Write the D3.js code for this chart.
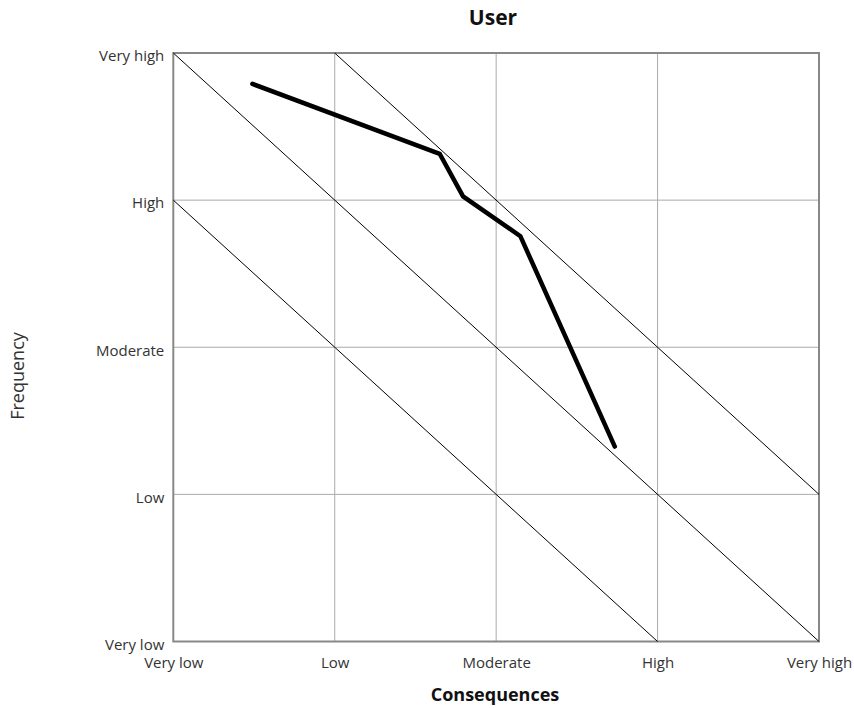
<!DOCTYPE html>
<html><head><meta charset="utf-8">
<script src="https://cdn.jsdelivr.net/npm/d3@7"></script>
<style>body{margin:0;background:#fff}text{font-family:"Open Sans",sans-serif}</style>
</head><body>
<svg id="c" width="854" height="708"></svg>
<script>
const levels = ["Very low","Low","Moderate","High","Very high"];
const title = "User";
const xTitle = "Consequences";
const yTitle = "Frequency";
// risk iso-lines: [x1,y1,x2,y2] in level units
const isoLines = [[0,3,3,0],[0,4,4,0],[1,4,4,1]];
// user path
const userX = [0.49, 1.65, 1.795, 2.15, 2.735];
const userY = [3.79, 3.315, 3.025, 2.755, 1.325];

const W=854,H=708, m={l:173.3,r:35,t:53,b:66.5};
const svg=d3.select("#c");
const x=d3.scaleLinear().domain([0,4]).range([m.l,W-m.r]);
const y=d3.scaleLinear().domain([0,4]).range([H-m.b,m.t]);
const ticks=d3.range(levels.length);

// gridlines
svg.append("g").selectAll("line.v").data(ticks.slice(1,-1)).join("line")
 .attr("x1",d=>x(d)).attr("x2",d=>x(d)).attr("y1",y(0)).attr("y2",y(4))
 .attr("stroke","#aaa").attr("stroke-width",1);
svg.append("g").selectAll("line.h").data(ticks.slice(1,-1)).join("line")
 .attr("y1",d=>y(d)).attr("y2",d=>y(d)).attr("x1",x(0)).attr("x2",x(4))
 .attr("stroke","#aaa").attr("stroke-width",1);
// frame
svg.append("rect").attr("x",x(0)).attr("y",y(4)).attr("width",x(4)-x(0)).attr("height",y(0)-y(4))
 .attr("fill","none").attr("stroke","#888").attr("stroke-width",2);
// iso lines
svg.append("g").selectAll("line").data(isoLines).join("line")
 .attr("x1",d=>x(d[0])).attr("y1",d=>y(d[1])).attr("x2",d=>x(d[2])).attr("y2",d=>y(d[3]))
 .attr("stroke","#000").attr("stroke-width",1);
// user line
svg.append("path").datum(userX.map((v,i)=>[v,userY[i]]))
 .attr("d",d3.line().x(d=>x(d[0])).y(d=>y(d[1])))
 .attr("fill","none").attr("stroke","#000").attr("stroke-width",4.5)
 .attr("stroke-linecap","round").attr("stroke-linejoin","miter");

// axes labels
const xa=svg.append("g").attr("transform",`translate(0,${y(0)})`)
 .call(d3.axisBottom(x).tickValues(ticks).tickFormat(i=>levels[i]).tickSize(0).tickPadding(16));
xa.select(".domain").remove();
xa.selectAll("text").attr("font-size",15).attr("fill","#333").attr("font-family","Open Sans");
const ya=svg.append("g").attr("transform",`translate(${x(0)},0)`)
 .call(d3.axisLeft(y).tickValues(ticks).tickFormat(i=>levels[i]).tickSize(0).tickPadding(9));
ya.select(".domain").remove();
ya.selectAll("text").attr("font-size",15).attr("fill","#333").attr("font-family","Open Sans").attr("dy","0.32em").attr("transform","translate(0,3)");

svg.append("text").attr("x",493).attr("y",25).attr("text-anchor","middle")
 .attr("font-size",21).attr("font-weight","bold").attr("fill","#111").text(title);
svg.append("text").attr("x",495).attr("y",701).attr("text-anchor","middle")
 .attr("font-size",18).attr("font-weight","bold").attr("fill","#111").text(xTitle);
svg.append("text").attr("transform","translate(24,376) rotate(-90)").attr("text-anchor","middle")
 .attr("font-size",18).attr("fill","#333").text(yTitle);
</script>
</body></html>
